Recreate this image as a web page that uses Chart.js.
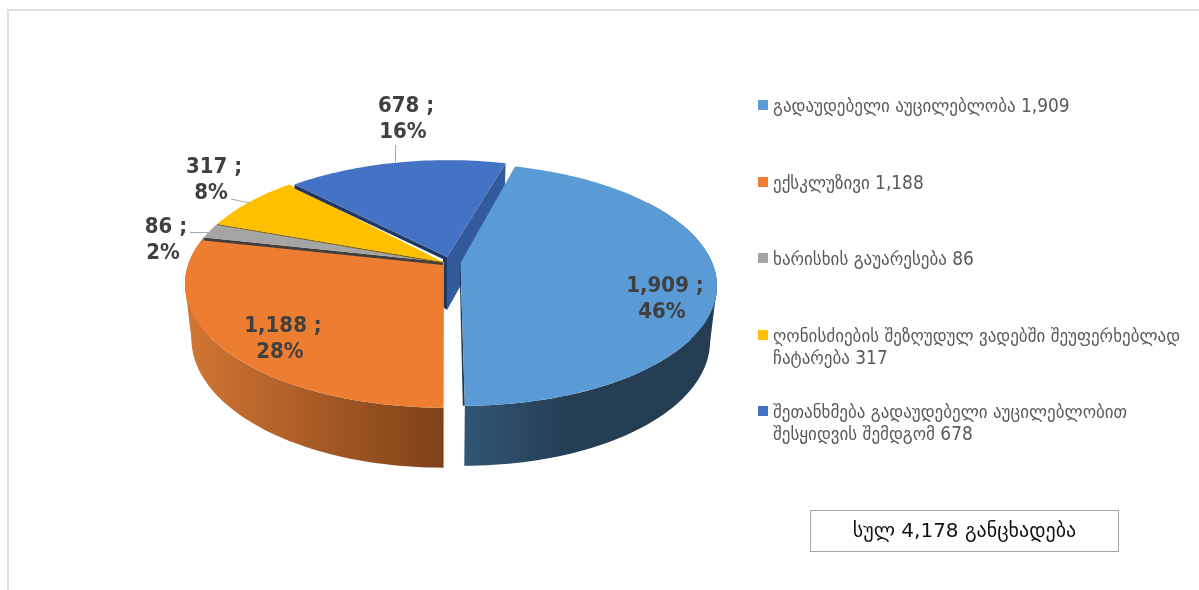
<!DOCTYPE html>
<html>
<head>
<meta charset="utf-8">
<style>
html, body { margin: 0; padding: 0; background: #fff; overflow: hidden; }
#wrap { position: relative; width: 1199px; height: 590px; font-family: "DejaVu Sans", sans-serif; }
#frame { position: absolute; left: 7px; top: 9px; width: 1192px; height: 581px; border-top: 2px solid #e0e0e0; border-left: 2px solid #e0e0e0; box-sizing: border-box; }
#pie { position: absolute; left: 0; top: 0; }
.legend { position: absolute; left: 773px; width: 424px; color: #595959; font-family: "DejaVu Sans Condensed", "DejaVu Sans", sans-serif; font-size: 18.9px; line-height: 22px; }
.legend i { position: absolute; left: -15px; top: 6px; width: 10px; height: 10px; }
#total { position: absolute; left: 810px; top: 510px; width: 309px; height: 42px; box-sizing: border-box; border: 1px solid #a6a6a6; color: #111; font-size: 20px; line-height: 38px; text-align: center; }
</style>
</head>
<body>
<div id="wrap">
  <div id="frame"></div>
  <canvas id="pie" width="1199" height="590"></canvas>
  <div id="legend"></div>
  <div id="total"></div>
</div>
<script src="https://cdn.jsdelivr.net/npm/chart.js@4/dist/chart.umd.min.js"></script>
<script>
const categories = [
    ['გადაუდებელი აუცილებლობა 1,909'],
    ['ექსკლუზივი 1,188'],
    ['ხარისხის გაუარესება 86'],
    ['ღონისძიების შეზღუდულ ვადებში შეუფერხებლად', 'ჩატარება 317'],
    ['შეთანხმება გადაუდებელი აუცილებლობით', 'შესყიდვის შემდგომ 678']
];
const values = [1909, 1188, 86, 317, 678];
const valueLabels = ['1,909', '1,188', '86', '317', '678'];
const percentLabels = ['46%', '28%', '2%', '8%', '16%'];
const totalLabel = 'სულ 4,178 განცხადება';

const topColors = ['#5b9bd5', '#ed7d31', '#a5a5a5', '#ffc000', '#4472c4'];
const edgeColors = ['#1f3a50', '#843c0c', '#404040', '#7f6000', '#1f3864'];
const legendTops = [94, 171, 247, 324, 400];

// perspective of the tilted disc
const TILT = 0.177, FLAT = 0.472, DEPTH = 53, BOTTOM_SCALE = 0.975;
const EXPLODE = [0.07, 0, 0, 0, 0];
const SLICE_SCALE = [[0.99, 0.975], [1, 1], [1, 1], [1, 1], [1, 1]];
const SLICE_SHIFT = [0, 0, 0, 0, 5];

function project(arc, i, u, v, down) {
    const w = 1 / (1 - TILT * v);
    const s = down ? BOTTOM_SCALE : 1;
    const d = down ? DEPTH * (1 + 0.2 * v) : 0;
    return {
        x: arc.x + SLICE_SHIFT[i] + arc.outerRadius * u * w * s * SLICE_SCALE[i][0],
        y: arc.y + arc.outerRadius * FLAT * v * w * s * SLICE_SCALE[i][1] + d
    };
}

// chart angles start at 3 o'clock, disc coords have v pointing at the viewer
function rimPoints(arc, i, down, from, to) {
    const mid = (arc.startAngle + arc.endAngle) / 2;
    const ex = EXPLODE[i] * Math.cos(mid), ey = EXPLODE[i] * Math.sin(mid);
    const a = from === undefined ? arc.startAngle : from;
    const b = to === undefined ? arc.endAngle : to;
    const pts = [];
    const n = Math.max(2, Math.ceil(Math.abs(b - a) * 40));
    for (let k = 0; k <= n; k++) {
        const t = a + (b - a) * k / n;
        pts.push(project(arc, i, Math.cos(t) + ex, Math.sin(t) + ey, down));
    }
    return { pts, apex: project(arc, i, ex, ey, down) };
}

function fillPoly(ctx, pts, fill) {
    ctx.beginPath();
    pts.forEach((p, k) => k ? ctx.lineTo(p.x, p.y) : ctx.moveTo(p.x, p.y));
    ctx.closePath();
    ctx.fillStyle = fill;
    ctx.fill();
}

function sideGradient(ctx, stops, x0, x1) {
    const g = ctx.createLinearGradient(x0, 0, x1, 0);
    stops.forEach(s => g.addColorStop(s[0], s[1]));
    return g;
}

function extreme(pts, sign) {
    return pts.reduce((best, p) => (p.x * sign > best.x * sign ? p : best));
}

// curved outer wall, only the part that faces the viewer
function drawWall(ctx, arc, i, sign, fill) {
    const from = Math.max(arc.startAngle, -0.6);
    const to = Math.min(arc.endAngle, Math.PI + 0.6);
    const top = rimPoints(arc, i, false, from, to).pts;
    const low = rimPoints(arc, i, true, from, to);
    // bridge from the widest point of the top rim to the one of the lower rim
    fillPoly(ctx, [extreme(top, sign), extreme(low.pts, sign), low.apex], fill);
    fillPoly(ctx, top.concat(low.pts.slice().reverse()), fill);
}

function drawTop(ctx, arc, i, apexShift) {
    const r = rimPoints(arc, i, false);
    const apex = { x: r.apex.x + apexShift.x, y: r.apex.y + apexShift.y };
    fillPoly(ctx, [apex].concat(r.pts), topColors[i]);
}

const disc3d = {
    id: 'disc3d',
    beforeDatasetDraw(chart) {
        const ctx = chart.ctx;
        const arcs = chart.getDatasetMeta(0).data;
        ctx.save();

        // back slice: its walls show in the gap left by the pulled out slice
        const back = arcs[4];
        const shift = { x: -1, y: -5 };
        const rb = rimPoints(back, 4, false);
        const rbLow = rimPoints(back, 4, true);
        const apexTop = { x: rb.apex.x + shift.x, y: rb.apex.y + shift.y };
        const apexLow = { x: rbLow.apex.x + shift.x, y: rbLow.apex.y + shift.y };
        const rimEnd = rb.pts[rb.pts.length - 1], rimEndLow = rbLow.pts[rbLow.pts.length - 1];
        fillPoly(ctx, [apexTop, rimEnd, rimEndLow, apexLow], '#335a9b');
        fillPoly(ctx, [apexTop, { x: apexTop.x - 4, y: apexTop.y }, { x: apexLow.x - 4, y: apexLow.y - 3 }, apexLow], edgeColors[4]);

        // left slice
        drawWall(ctx, arcs[1], 1, -1, sideGradient(ctx, [[0, '#d27733'], [0.5, '#a85b26'], [1, '#7e4118']], 185, 444));
        drawTop(ctx, arcs[1], 1, { x: 1, y: 0 });

        // flat faces of the far slices with their dark cut edges
        [[2, { x: 0, y: 0 }, 3], [3, { x: 0, y: 0 }, 1.2], [4, shift, 4]].forEach(item => {
            const i = item[0], t = item[2];
            const r = rimPoints(arcs[i], i, false);
            const apex = { x: r.apex.x + item[1].x, y: r.apex.y + item[1].y };
            const f = r.pts[0];
            fillPoly(ctx, [apex, f, { x: f.x, y: f.y + t }, { x: apex.x, y: apex.y + t }], edgeColors[i]);
            drawTop(ctx, arcs[i], i, item[1]);
        });

        // pulled out slice
        const rl = rimPoints(arcs[0], 0, false);
        const lastTop = rl.pts[rl.pts.length - 1];
        fillPoly(ctx, [rl.apex, lastTop, { x: lastTop.x - 2, y: lastTop.y }, { x: rl.apex.x - 1, y: rl.apex.y }], edgeColors[0]);
        drawWall(ctx, arcs[0], 0, 1, sideGradient(ctx, [[0, '#325675'], [0.4, '#253e54'], [1, '#243d52']], 465, 718));
        drawTop(ctx, arcs[0], 0, { x: 0, y: 0 });

        ctx.restore();
        return false;
    },
    afterDatasetsDraw(chart) {
        const ctx = chart.ctx;
        ctx.save();
        ctx.strokeStyle = '#a6a6a6';
        ctx.lineWidth = 1;
        [[395.5, 145, 395.5, 162], [231, 199, 250, 203], [190, 232.5, 208, 232.5]].forEach(l => {
            ctx.beginPath();
            ctx.moveTo(l[0], l[1]);
            ctx.lineTo(l[2], l[3]);
            ctx.stroke();
        });
        ctx.font = 'bold 22px "DejaVu Sans Condensed", "DejaVu Sans"';
        ctx.fillStyle = '#404040';
        ctx.textAlign = 'center';
        ctx.textBaseline = 'middle';
        const spots = [[665, 286], [283, 326], [166, 227], [214, 167], [406, 106]];
        spots.forEach((s, i) => {
            ctx.fillText(valueLabels[i] + ' ;', s[0], s[1]);
            ctx.fillText(percentLabels[i], s[0] - 3, s[1] + 26);
        });
        ctx.restore();
    }
};

new Chart(document.getElementById('pie').getContext('2d'), {
    type: 'pie',
    data: {
        labels: categories.map(c => c.join(' ')),
        datasets: [{ data: values, backgroundColor: topColors, borderWidth: 0 }]
    },
    options: {
        responsive: false,
        animation: false,
        rotation: 15.4,
        layout: { padding: { left: 189, right: 502, top: 8, bottom: 74 } },
        plugins: { legend: { display: false }, tooltip: { enabled: false } }
    },
    plugins: [disc3d]
});

const legendBox = document.getElementById('legend');
categories.forEach((lines, i) => {
    const d = document.createElement('div');
    d.className = 'legend';
    d.style.top = legendTops[i] + 'px';
    d.innerHTML = '<i style="background:' + topColors[i] + '"></i>' + lines.join('<br>');
    legendBox.appendChild(d);
});
document.getElementById('total').textContent = totalLabel;
</script>
</body>
</html>
